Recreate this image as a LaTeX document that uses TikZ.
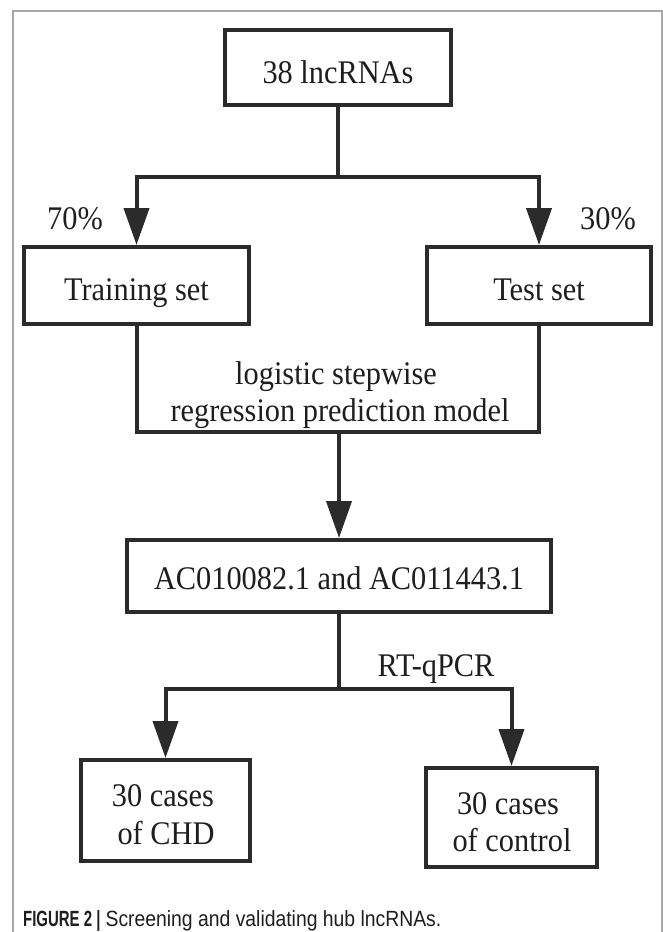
\documentclass[tikz,border=0pt]{standalone}
\usepackage{fontspec}
\setmainfont{Liberation Serif}[FakeStretch=0.92]
\newfontfamily\capfont{Liberation Sans}[FakeStretch=0.88]
\newfontfamily\capboldfont{Liberation Sans}[FakeStretch=0.68]
\usetikzlibrary{arrows.meta}
\definecolor{ink}{HTML}{2B2B2B}
\definecolor{txt}{HTML}{1E1E1E}
\definecolor{framegray}{HTML}{A8A8A8}
\tikzset{
  box/.style={draw=ink, line width=4pt, inner sep=0pt, text=txt, text depth=0pt,
    font=\fontsize{33pt}{37pt}\selectfont},
  lbl/.style={inner sep=0pt, anchor=base, text=txt, font=\fontsize{33pt}{37pt}\selectfont},
  conn/.style={draw=ink, line width=4pt, line join=miter},
  arr/.style={conn, -{Triangle[width=25pt,length=37pt]}}
}
\begin{document}
\begin{tikzpicture}[x=1pt,y=-1pt]
\useasboundingbox (0,0) rectangle (663,932);
\fill[white] (0,0) rectangle (663,932);
% outer frame
\draw[framegray, line width=1.5pt] (13,932) -- (13,11) -- (662,11) -- (662,932);

% boxes
\node[box, minimum width=226pt, minimum height=75pt, text height=31pt] (top) at (338,67.5) {38 lncRNAs};
\node[box, minimum width=225pt, minimum height=77pt, text height=29pt] (train) at (136.5,285.5) {Training set};
\node[box, minimum width=224pt, minimum height=77pt, text height=29pt] (test) at (539,285.5) {Test set};
\node[box, minimum width=424pt, minimum height=72pt, text height=26pt] (ac) at (339,576) {AC010082.1 and AC011443.1};
\node[box, minimum width=169pt, minimum height=101pt] (chd) at (165.5,810.5) {};
\node[box, minimum width=171pt, minimum height=99pt] (ctrl) at (511.5,817.5) {};

% texts
\node[lbl] (p70) at (75,229) {70\%};
\node[lbl] (p30) at (608,229) {30\%};
\node[lbl] (m1) at (336,384) {logistic stepwise};
\node[lbl] (m2) at (340,421) {regression prediction model};
\node[lbl] (c1) at (163,806) {30 cases};
\node[lbl] (c2) at (166,844) {of CHD};
\node[lbl] (k1) at (508,814) {30 cases};
\node[lbl] (k2) at (512,851) {of control};
\node[lbl] (rt) at (436,676) {RT-qPCR};

% connectors
\coordinate (j1) at (338,177);
\coordinate (mb) at (339,432);
\coordinate (j2) at (339,689);
\draw[conn] (top.south) -- (j1);
\draw[arr] (j1) -| (train.north);
\draw[arr] (j1) -| (test.north);
\draw[conn] (train.south) |- (mb) -| (test.south);
\draw[arr] (mb) -- (ac.north);
\draw[conn] (ac.south) -- (j2);
\draw[arr] (j2) -| (chd.north);
\draw[arr] (j2) -| (ctrl.north);

% caption
\node[inner sep=0pt, anchor=base west, text=txt] (cap) at (23,926)
  {\fontsize{22pt}{25pt}\selectfont{\capboldfont\bfseries FIGURE 2 |} {\capfont Screening and validating hub lncRNAs.}};
\end{tikzpicture}
\end{document}
